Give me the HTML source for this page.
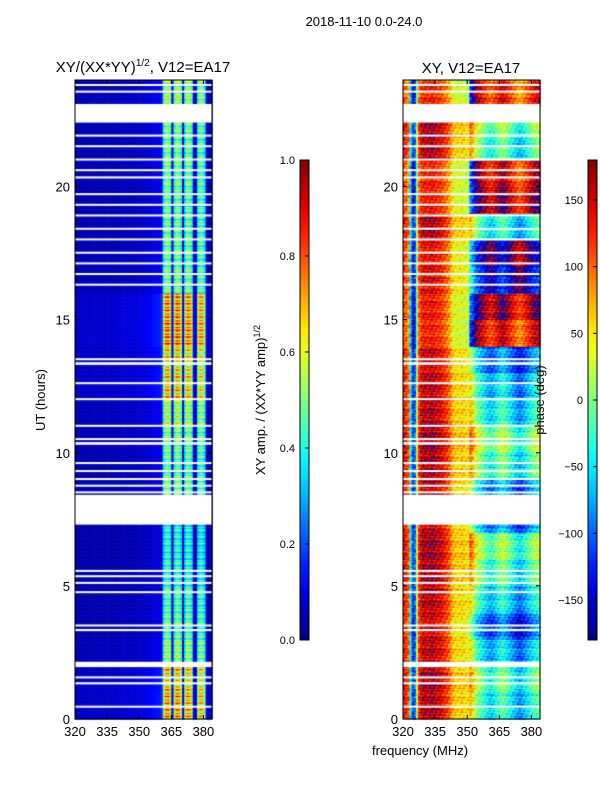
<!DOCTYPE html>
<html><head><meta charset="utf-8"><style>
body{margin:0;background:#fff;width:600px;height:800px;overflow:hidden;font-family:"Liberation Sans",sans-serif;}
svg text{font-family:"Liberation Sans",sans-serif;}
</style></head><body>
<div style="position:relative;width:600px;height:800px">
<canvas id="c" width="600" height="800" style="position:absolute;left:0;top:0"></canvas>
<svg id="s" width="600" height="800" style="position:absolute;left:0;top:0"></svg>
</div>
<script>
// ---- data ----
const freqMin = 320, freqMax = 384, nChan = 64;
const tMin = 0, tMax = 24, nRow = 480;
const xTicks = [320, 335, 350, 365, 380];
const yTicks = [0, 5, 10, 15, 20];
const ampTicks = [0.0, 0.2, 0.4, 0.6, 0.8, 1.0];
const phaseTicks = [-150, -100, -50, 0, 50, 100, 150];
// flagged (blank) time ranges, hours
const gapStart = [0.45,1.3,1.55,1.95,3.3,3.5,4.75,5.1,5.35,5.55,7.3,8.5,8.75,9.0,9.3,9.6,10.3,10.5,11.0,12.0,12.6,13.3,13.5,16.3,16.7,17.1,17.5,18.0,18.4,18.9,19.3,19.7,20.3,20.6,21.0,21.5,21.9,22.4,23.55,23.8];
const gapEnd   = [0.5,1.38,1.6,2.15,3.38,3.55,4.8,5.15,5.4,5.6,8.42,8.55,8.8,9.05,9.35,9.65,10.4,10.55,11.05,12.05,12.65,13.4,13.55,16.35,16.75,17.15,17.55,18.05,18.45,18.95,19.35,19.75,20.38,20.65,21.05,21.55,21.95,23.1,23.6,23.85];
// per-channel amplitude profile (320..383 MHz)
const ampChan = [0.04,0.04,0.05,0.05,0.05,0.05,0.05,0.05,0.05,0.05,0.05,0.05,0.06,0.05,0.05,0.05,0.05,0.05,0.05,0.05,0.06,0.06,0.06,0.06,0.06,0.06,0.06,0.06,0.06,0.06,0.07,0.07,0.07,0.07,0.08,0.08,0.09,0.09,0.10,0.10,0.12,0.40,0.48,0.50,0.42,0.08,0.40,0.50,0.48,0.40,0.08,0.40,0.48,0.46,0.40,0.08,0.08,0.38,0.46,0.44,0.36,0.08,0.06,0.05];
// per-hour amplitude gain (0..23 h)
const ampHour = [1.45,1.4,1.1,1.0,0.95,0.9,0.85,0.85,1.0,1.0,1.05,1.15,1.4,1.35,1.55,1.5,1.05,1.0,1.0,1.0,1.05,1.0,1.05,1.15];
// per-channel phase profile (deg)
const phaseChan = [130,120,100,-40,-120,-110,20,120,140,150,150,145,150,155,150,145,140,140,130,120,110,100,80,60,55,50,50,55,50,45,40,30,10,-20,-40,-50,-60,-70,-80,-90,-100,-100,-90,-80,-70,-60,-50,-60,-70,-80,-90,-100,-110,-120,-130,-120,-110,-100,-90,-80,-70,-60,-60,-50];
// per-hour phase offset applied to upper band (deg)
const phaseHour = [40,60,20,-20,30,60,80,0,0,60,80,40,20,-10,-150,-120,-60,-90,40,-120,-140,60,80,-160];

// ---- layout ----
const ax1 = {x0:75,x1:212,y0:80,y1:719};
const ax2 = {x0:403,x1:540,y0:80,y1:719};
function xs(ax,f){return ax.x0+(f-freqMin)/(freqMax-freqMin)*(ax.x1-ax.x0);}
function ys(ax,t){return ax.y1-(t-tMin)/(tMax-tMin)*(ax.y1-ax.y0);}
function jet(v){v=Math.max(0,Math.min(1,v));
 const r=Math.max(0,Math.min(1,1.5-Math.abs(4*v-3))),g=Math.max(0,Math.min(1,1.5-Math.abs(4*v-2))),b=Math.max(0,Math.min(1,1.5-Math.abs(4*v-1)));
 return `rgb(${Math.round(r*255)},${Math.round(g*255)},${Math.round(b*255)})`;}
const ctx=document.getElementById('c').getContext('2d');
const dt=(tMax-tMin)/nRow, df=(freqMax-freqMin)/nChan;
for(let r=0;r<nRow;r++){
 const t=tMin+r*dt;
 const h=Math.min(23,Math.floor(t));
 const wob=((r*7)%5-2)*0.04;
 for(let c=0;c<nChan;c++){
  const f=freqMin+c*df;
  let a=ampChan[c]*ampHour[h]*(1+wob*(ampChan[c]>0.3?3:0));
  ctx.fillStyle=jet(a);
  ctx.fillRect(xs(ax1,f),ys(ax1,t+dt),xs(ax1,f+df)-xs(ax1,f)+0.6,ys(ax1,t)-ys(ax1,t+dt)+0.6);
  let p=phaseChan[c]+(c>30?phaseHour[h]:phaseHour[h]*0.15)+((r*13+c*3)%7-3)*8+((r*5)%9-4)*6;
  p=((p+180)%360+360)%360-180;
  ctx.fillStyle=jet((p+180)/360);
  ctx.fillRect(xs(ax2,f),ys(ax2,t+dt),xs(ax2,f+df)-xs(ax2,f)+0.6,ys(ax2,t)-ys(ax2,t+dt)+0.6);
 }
}
// blank flagged time ranges
ctx.fillStyle='#fff';
for(let i=0;i<gapStart.length;i++){
 [ax1,ax2].forEach(ax=>{const ya=ys(ax,gapEnd[i]),yb=ys(ax,gapStart[i]);
  ctx.fillRect(ax.x0,ya,ax.x1-ax.x0,Math.max(2,yb-ya));});
}
// ---- svg overlay ----
const S=document.getElementById('s'),NS='http://www.w3.org/2000/svg';
function el(tag,at,txt){const e=document.createElementNS(NS,tag);for(const k in at)e.setAttribute(k,at[k]);if(txt!==undefined)e.textContent=txt;S.appendChild(e);return e;}
const defs=el('defs',{});
const lg=document.createElementNS(NS,'linearGradient');lg.setAttribute('id','jet');lg.setAttribute('x1','0');lg.setAttribute('y1','1');lg.setAttribute('x2','0');lg.setAttribute('y2','0');
for(let i=0;i<=20;i++){const st=document.createElementNS(NS,'stop');st.setAttribute('offset',i/20);st.setAttribute('stop-color',jet(i/20));lg.appendChild(st);}
defs.appendChild(lg);
function axes(ax,name){
 let e=el('rect',{x:ax.x0,y:ax.y0,width:ax.x1-ax.x0,height:ax.y1-ax.y0,fill:'none',stroke:'#000','stroke-width':1});
 
 xTicks.forEach(v=>{const x=xs(ax,v);
  el('line',{x1:x,x2:x,y1:ax.y1,y2:ax.y1-4,stroke:'#000'});el('line',{x1:x,x2:x,y1:ax.y0,y2:ax.y0+4,stroke:'#000'});
  const t=el('text',{x:x,y:ax.y1+17,'text-anchor':'middle','font-size':13},v);
  });
 yTicks.forEach(v=>{const y=ys(ax,v);
  el('line',{x1:ax.x0,x2:ax.x0+4,y1:y,y2:y,stroke:'#000'});el('line',{x1:ax.x1,x2:ax.x1-4,y1:y,y2:y,stroke:'#000'});
  const t=el('text',{x:ax.x0-5,y:y+5,'text-anchor':'end','font-size':13},v);
  });
}
axes(ax1,'amp-panel');axes(ax2,'phase-panel');
function cbar(x,ticks,vmin,vmax,name,fmt){
 const y0=160,y1=640;
 let e=el('rect',{x:x,y:y0,width:9,height:y1-y0,fill:'url(#jet)',stroke:'#000','stroke-width':1});
 
 ticks.forEach(v=>{const y=y1-(v-vmin)/(vmax-vmin)*(y1-y0);
  el('line',{x1:x+5,x2:x+9,y1:y,y2:y,stroke:'#000'});
  const t=el('text',{x:x-5,y:y+4,'text-anchor':'end','font-size':11},fmt(v));
  });
}
cbar(300,ampTicks,0,1,'amp-colorbar',v=>v.toFixed(1));
cbar(588,phaseTicks,-180,180,'phase-colorbar',v=>v<0?'\u2212'+(-v):String(v));
let t;
t=el('text',{x:364,y:26,'text-anchor':'middle','font-size':13},'2018-11-10 0.0-24.0');
t=el('text',{x:143,y:72,'text-anchor':'middle','font-size':15});t.innerHTML='XY/(XX*YY)<tspan dy="-6" font-size="10">1/2</tspan><tspan dy="6">, V12=EA17</tspan>';
t=el('text',{x:471,y:73,'text-anchor':'middle','font-size':15},'XY, V12=EA17');
t=el('text',{x:45,y:400,'text-anchor':'middle','font-size':13,transform:'rotate(-90 45 400)'},'UT (hours)');
t=el('text',{x:265,y:400,'text-anchor':'middle','font-size':13,transform:'rotate(-90 265 400)'});t.innerHTML='XY amp. / (XX*YY amp)<tspan dy="-5" font-size="9">1/2</tspan>';
t=el('text',{x:544,y:400,'text-anchor':'middle','font-size':13,transform:'rotate(-90 544 400)'},'phase (deg)');
t=el('text',{x:420,y:755,'text-anchor':'middle','font-size':13},'frequency (MHz)');
</script>
</body></html>
